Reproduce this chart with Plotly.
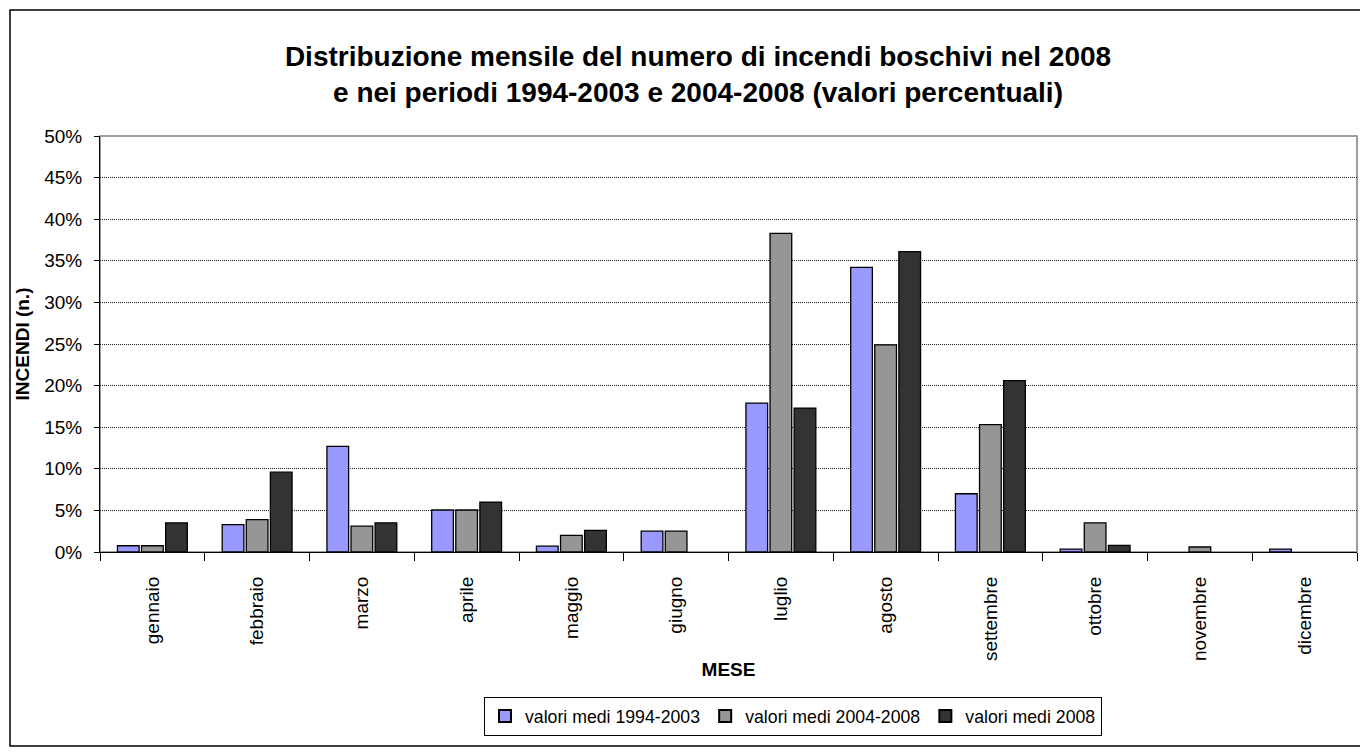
import plotly.graph_objects as go

months = ["gennaio", "febbraio", "marzo", "aprile", "maggio", "giugno",
          "luglio", "agosto", "settembre", "ottobre", "novembre", "dicembre"]
medi_1994_2003 = [0.75, 3.3, 12.7, 5.05, 0.7, 2.5, 17.9, 34.2, 7.0, 0.35, 0.0, 0.35]
medi_2004_2008 = [0.75, 3.9, 3.1, 5.05, 2.0, 2.5, 38.3, 24.9, 15.3, 3.5, 0.6, 0.0]
medi_2008 = [3.5, 9.6, 3.5, 6.0, 2.6, 0.0, 17.3, 36.1, 20.6, 0.8, 0.0, 0.0]
series_names = ["valori medi 1994-2003", "valori medi 2004-2008", "valori medi 2008"]
y_ticks = [0, 5, 10, 15, 20, 25, 30, 35, 40, 45, 50]
y_tick_labels = ["0%", "5%", "10%", "15%", "20%", "25%", "30%", "35%", "40%", "45%", "50%"]

colors = ["#9999FF", "#969696", "#333333"]
FONT = "Liberation Sans, Arial, sans-serif"

W, H = 1360, 756
ML, MR, MT, MB = 100, 3, 136, 204
pw, ph = W - ML - MR, H - MT - MB

fig = go.Figure()
for name, vals, col in zip(series_names, [medi_1994_2003, medi_2004_2008, medi_2008], colors):
    fig.add_trace(go.Bar(
        x=months, y=[v if v > 0 else None for v in vals], name=name,
        marker=dict(color=col, line=dict(color="#000000", width=1.3)),
    ))

def px_x(p):
    return (p - ML) / pw

def px_y(p):
    return (H - MB - p) / ph

fig.update_layout(
    width=W, height=H,
    margin=dict(l=ML, r=MR, t=MT, b=MB, autoexpand=False),
    paper_bgcolor="white", plot_bgcolor="white",
    barmode="group", bargap=0.31, bargroupgap=0.1,
    font=dict(family=FONT, size=19, color="black"),
    title=dict(
        text="Distribuzione mensile del numero di incendi boschivi nel 2008<br>e nei periodi 1994-2003 e 2004-2008 (valori percentuali)",
        x=px_x(698), xref="paper", xanchor="center", y=1 - 66 / H, yanchor="middle",
        font=dict(family=FONT, size=28, color="black", weight="bold"),
    ),
    xaxis=dict(
        type="category", tickson="boundaries", ticks="outside", ticklen=8,
        tickcolor="black", showline=True, linecolor="black", linewidth=1,
        tickangle=-90, tickfont=dict(size=19), ticklabelstandoff=16,
        showgrid=False, automargin=False,
        title=dict(text="MESE", standoff=2, font=dict(size=19, weight="bold")),
    ),
    yaxis=dict(
        range=[0, 50], tickvals=y_ticks, ticktext=y_tick_labels, ticks="outside", ticklen=5,
        tickcolor="black", showline=True, linecolor="black", linewidth=1,
        showgrid=True, gridcolor="#222222", griddash="1px,1px", gridwidth=1,
        zeroline=False, tickfont=dict(size=19), ticklabelstandoff=8, automargin=False,
        title=dict(text="INCENDI (n.)", standoff=9, font=dict(size=19, weight="bold")),
    ),
    legend=dict(
        orientation="h", x=px_x(484), xanchor="left", y=px_y(697), yanchor="top",
        bordercolor="black", borderwidth=1, bgcolor="white",
        font=dict(size=17.7), itemsizing="constant", traceorder="normal",
    ),
    shapes=[
        dict(type="rect", xref="paper", yref="paper", x0=0, x1=1, y0=0, y1=1,
             line=dict(color="#808080", width=1.5), layer="below"),
        dict(type="rect", xref="paper", yref="paper",
             x0=px_x(10), x1=px_x(1375), y0=px_y(10), y1=px_y(746),
             line=dict(color="black", width=1.5), layer="below"),
    ],
)

fig.write_html("out.html")
